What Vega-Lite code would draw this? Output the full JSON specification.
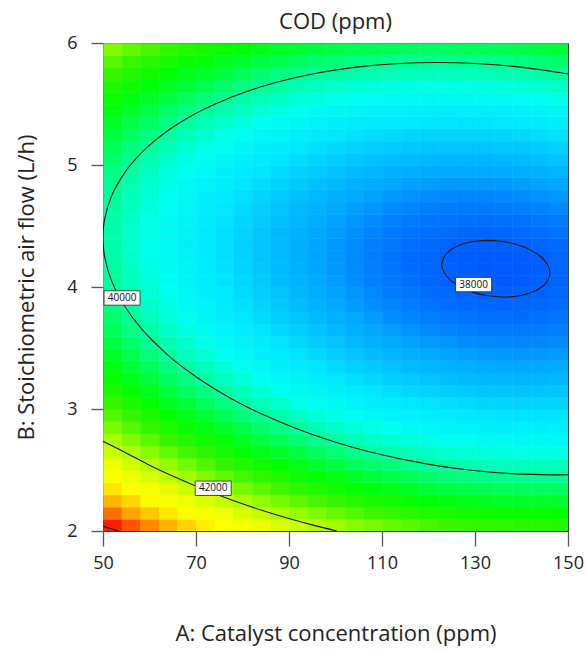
{
"$schema":"https://vega.github.io/schema/vega-lite/v6.json",
"width":465,"height":488,
"autosize":{"type":"none"},
"padding":{"left":103,"top":43,"right":19,"bottom":122},
"background":"white",
"title":{"text":"COD (ppm)","fontSize":22,"font":"Open Sans","fontWeight":"normal","color":"#222","offset":0},
"config":{"view":{"stroke":"#3a3a3a","strokeWidth":1},"font":"Open Sans",
 "title":{"fontSize":22,"fontWeight":"normal"},
 "axisX":{"titleFontSize":22,"titleFontWeight":"normal","titlePadding":51,"labelFontSize":18,"labelPadding":8,"tickSize":15,"tickColor":"#555","tickWidth":1.3,"domain":false,"grid":false,"labelColor":"#222","titleColor":"#222","labelFlush":false},
 "axisY":{"titleFontSize":22,"titleFontWeight":"normal","titlePadding":28,"labelFontSize":18,"labelPadding":14,"tickSize":12,"tickColor":"#555","tickWidth":1.3,"domain":false,"grid":false,"labelColor":"#222","titleColor":"#222","labelFlush":false}},
"datasets":{
"grid":[
{"a":50,"b":2,"v":43927},{"a":54,"b":2,"v":43702},{"a":58,"b":2,"v":43486},{"a":62,"b":2,"v":43281},{"a":66,"b":2,"v":43084},{"a":70,"b":2,"v":42896},{"a":74,"b":2,"v":42718},{"a":78,"b":2,"v":42549},{"a":82,"b":2,"v":42390},{"a":86,"b":2,"v":42240},{"a":90,"b":2,"v":42099},{"a":94,"b":2,"v":41967},{"a":98,"b":2,"v":41846},{"a":102,"b":2,"v":41733},{"a":106,"b":2,"v":41630},{"a":110,"b":2,"v":41535},{"a":114,"b":2,"v":41451},{"a":118,"b":2,"v":41376},{"a":122,"b":2,"v":41310},{"a":126,"b":2,"v":41253},{"a":130,"b":2,"v":41205},{"a":134,"b":2,"v":41167},{"a":138,"b":2,"v":41139},{"a":142,"b":2,"v":41120},{"a":146,"b":2,"v":41110},
{"a":50,"b":2.1,"v":43592},{"a":54,"b":2.1,"v":43369},{"a":58,"b":2.1,"v":43155},{"a":62,"b":2.1,"v":42951},{"a":66,"b":2.1,"v":42756},{"a":70,"b":2.1,"v":42570},{"a":74,"b":2.1,"v":42394},{"a":78,"b":2.1,"v":42227},{"a":82,"b":2.1,"v":42069},{"a":86,"b":2.1,"v":41921},{"a":90,"b":2.1,"v":41782},{"a":94,"b":2.1,"v":41652},{"a":98,"b":2.1,"v":41532},{"a":102,"b":2.1,"v":41420},{"a":106,"b":2.1,"v":41319},{"a":110,"b":2.1,"v":41226},{"a":114,"b":2.1,"v":41144},{"a":118,"b":2.1,"v":41070},{"a":122,"b":2.1,"v":41006},{"a":126,"b":2.1,"v":40951},{"a":130,"b":2.1,"v":40905},{"a":134,"b":2.1,"v":40869},{"a":138,"b":2.1,"v":40842},{"a":142,"b":2.1,"v":40825},{"a":146,"b":2.1,"v":40817},
{"a":50,"b":2.2,"v":43271},{"a":54,"b":2.2,"v":43050},{"a":58,"b":2.2,"v":42837},{"a":62,"b":2.2,"v":42635},{"a":66,"b":2.2,"v":42442},{"a":70,"b":2.2,"v":42258},{"a":74,"b":2.2,"v":42083},{"a":78,"b":2.2,"v":41918},{"a":82,"b":2.2,"v":41762},{"a":86,"b":2.2,"v":41615},{"a":90,"b":2.2,"v":41478},{"a":94,"b":2.2,"v":41350},{"a":98,"b":2.2,"v":41232},{"a":102,"b":2.2,"v":41122},{"a":106,"b":2.2,"v":41023},{"a":110,"b":2.2,"v":40932},{"a":114,"b":2.2,"v":40851},{"a":118,"b":2.2,"v":40779},{"a":122,"b":2.2,"v":40717},{"a":126,"b":2.2,"v":40663},{"a":130,"b":2.2,"v":40619},{"a":134,"b":2.2,"v":40585},{"a":138,"b":2.2,"v":40560},{"a":142,"b":2.2,"v":40544},{"a":146,"b":2.2,"v":40538},
{"a":50,"b":2.3,"v":42965},{"a":54,"b":2.3,"v":42745},{"a":58,"b":2.3,"v":42535},{"a":62,"b":2.3,"v":42334},{"a":66,"b":2.3,"v":42143},{"a":70,"b":2.3,"v":41960},{"a":74,"b":2.3,"v":41788},{"a":78,"b":2.3,"v":41624},{"a":82,"b":2.3,"v":41470},{"a":86,"b":2.3,"v":41325},{"a":90,"b":2.3,"v":41190},{"a":94,"b":2.3,"v":41063},{"a":98,"b":2.3,"v":40947},{"a":102,"b":2.3,"v":40839},{"a":106,"b":2.3,"v":40741},{"a":110,"b":2.3,"v":40652},{"a":114,"b":2.3,"v":40573},{"a":118,"b":2.3,"v":40503},{"a":122,"b":2.3,"v":40442},{"a":126,"b":2.3,"v":40391},{"a":130,"b":2.3,"v":40348},{"a":134,"b":2.3,"v":40316},{"a":138,"b":2.3,"v":40292},{"a":142,"b":2.3,"v":40279},{"a":146,"b":2.3,"v":40274},
{"a":50,"b":2.4,"v":42673},{"a":54,"b":2.4,"v":42455},{"a":58,"b":2.4,"v":42246},{"a":62,"b":2.4,"v":42048},{"a":66,"b":2.4,"v":41858},{"a":70,"b":2.4,"v":41677},{"a":74,"b":2.4,"v":41506},{"a":78,"b":2.4,"v":41345},{"a":82,"b":2.4,"v":41192},{"a":86,"b":2.4,"v":41049},{"a":90,"b":2.4,"v":40915},{"a":94,"b":2.4,"v":40790},{"a":98,"b":2.4,"v":40676},{"a":102,"b":2.4,"v":40570},{"a":106,"b":2.4,"v":40474},{"a":110,"b":2.4,"v":40386},{"a":114,"b":2.4,"v":40310},{"a":118,"b":2.4,"v":40241},{"a":122,"b":2.4,"v":40182},{"a":126,"b":2.4,"v":40132},{"a":130,"b":2.4,"v":40091},{"a":134,"b":2.4,"v":40061},{"a":138,"b":2.4,"v":40039},{"a":142,"b":2.4,"v":40027},{"a":146,"b":2.4,"v":40024},
{"a":50,"b":2.5,"v":42396},{"a":54,"b":2.5,"v":42180},{"a":58,"b":2.5,"v":41973},{"a":62,"b":2.5,"v":41776},{"a":66,"b":2.5,"v":41588},{"a":70,"b":2.5,"v":41409},{"a":74,"b":2.5,"v":41240},{"a":78,"b":2.5,"v":41080},{"a":82,"b":2.5,"v":40929},{"a":86,"b":2.5,"v":40788},{"a":90,"b":2.5,"v":40656},{"a":94,"b":2.5,"v":40533},{"a":98,"b":2.5,"v":40420},{"a":102,"b":2.5,"v":40316},{"a":106,"b":2.5,"v":40222},{"a":110,"b":2.5,"v":40136},{"a":114,"b":2.5,"v":40061},{"a":118,"b":2.5,"v":39993},{"a":122,"b":2.5,"v":39936},{"a":126,"b":2.5,"v":39888},{"a":130,"b":2.5,"v":39849},{"a":134,"b":2.5,"v":39820},{"a":138,"b":2.5,"v":39800},{"a":142,"b":2.5,"v":39790},{"a":146,"b":2.5,"v":39789},
{"a":50,"b":2.6,"v":42134},{"a":54,"b":2.6,"v":41920},{"a":58,"b":2.6,"v":41714},{"a":62,"b":2.6,"v":41519},{"a":66,"b":2.6,"v":41333},{"a":70,"b":2.6,"v":41156},{"a":74,"b":2.6,"v":40988},{"a":78,"b":2.6,"v":40830},{"a":82,"b":2.6,"v":40681},{"a":86,"b":2.6,"v":40541},{"a":90,"b":2.6,"v":40411},{"a":94,"b":2.6,"v":40290},{"a":98,"b":2.6,"v":40179},{"a":102,"b":2.6,"v":40076},{"a":106,"b":2.6,"v":39984},{"a":110,"b":2.6,"v":39900},{"a":114,"b":2.6,"v":39827},{"a":118,"b":2.6,"v":39761},{"a":122,"b":2.6,"v":39706},{"a":126,"b":2.6,"v":39660},{"a":130,"b":2.6,"v":39622},{"a":134,"b":2.6,"v":39595},{"a":138,"b":2.6,"v":39577},{"a":142,"b":2.6,"v":39569},{"a":146,"b":2.6,"v":39569},
{"a":50,"b":2.7,"v":41886},{"a":54,"b":2.7,"v":41673},{"a":58,"b":2.7,"v":41470},{"a":62,"b":2.7,"v":41276},{"a":66,"b":2.7,"v":41092},{"a":70,"b":2.7,"v":40916},{"a":74,"b":2.7,"v":40751},{"a":78,"b":2.7,"v":40594},{"a":82,"b":2.7,"v":40447},{"a":86,"b":2.7,"v":40309},{"a":90,"b":2.7,"v":40181},{"a":94,"b":2.7,"v":40061},{"a":98,"b":2.7,"v":39952},{"a":102,"b":2.7,"v":39851},{"a":106,"b":2.7,"v":39761},{"a":110,"b":2.7,"v":39678},{"a":114,"b":2.7,"v":39607},{"a":118,"b":2.7,"v":39543},{"a":122,"b":2.7,"v":39489},{"a":126,"b":2.7,"v":39445},{"a":130,"b":2.7,"v":39409},{"a":134,"b":2.7,"v":39384},{"a":138,"b":2.7,"v":39367},{"a":142,"b":2.7,"v":39361},{"a":146,"b":2.7,"v":39363},
{"a":50,"b":2.8,"v":41653},{"a":54,"b":2.8,"v":41442},{"a":58,"b":2.8,"v":41240},{"a":62,"b":2.8,"v":41049},{"a":66,"b":2.8,"v":40866},{"a":70,"b":2.8,"v":40692},{"a":74,"b":2.8,"v":40528},{"a":78,"b":2.8,"v":40374},{"a":82,"b":2.8,"v":40228},{"a":86,"b":2.8,"v":40092},{"a":90,"b":2.8,"v":39965},{"a":94,"b":2.8,"v":39847},{"a":98,"b":2.8,"v":39740},{"a":102,"b":2.8,"v":39641},{"a":106,"b":2.8,"v":39552},{"a":110,"b":2.8,"v":39471},{"a":114,"b":2.8,"v":39402},{"a":118,"b":2.8,"v":39340},{"a":122,"b":2.8,"v":39288},{"a":126,"b":2.8,"v":39245},{"a":130,"b":2.8,"v":39211},{"a":134,"b":2.8,"v":39188},{"a":138,"b":2.8,"v":39173},{"a":142,"b":2.8,"v":39168},{"a":146,"b":2.8,"v":39172},
{"a":50,"b":2.9,"v":41434},{"a":54,"b":2.9,"v":41225},{"a":58,"b":2.9,"v":41025},{"a":62,"b":2.9,"v":40835},{"a":66,"b":2.9,"v":40654},{"a":70,"b":2.9,"v":40482},{"a":74,"b":2.9,"v":40320},{"a":78,"b":2.9,"v":40167},{"a":82,"b":2.9,"v":40023},{"a":86,"b":2.9,"v":39889},{"a":90,"b":2.9,"v":39764},{"a":94,"b":2.9,"v":39648},{"a":98,"b":2.9,"v":39542},{"a":102,"b":2.9,"v":39445},{"a":106,"b":2.9,"v":39358},{"a":110,"b":2.9,"v":39279},{"a":114,"b":2.9,"v":39211},{"a":118,"b":2.9,"v":39151},{"a":122,"b":2.9,"v":39101},{"a":126,"b":2.9,"v":39060},{"a":130,"b":2.9,"v":39028},{"a":134,"b":2.9,"v":39006},{"a":138,"b":2.9,"v":38993},{"a":142,"b":2.9,"v":38990},{"a":146,"b":2.9,"v":38996},
{"a":50,"b":3,"v":41230},{"a":54,"b":3,"v":41023},{"a":58,"b":3,"v":40824},{"a":62,"b":3,"v":40636},{"a":66,"b":3,"v":40457},{"a":70,"b":3,"v":40287},{"a":74,"b":3,"v":40126},{"a":78,"b":3,"v":39975},{"a":82,"b":3,"v":39833},{"a":86,"b":3,"v":39701},{"a":90,"b":3,"v":39577},{"a":94,"b":3,"v":39463},{"a":98,"b":3,"v":39359},{"a":102,"b":3,"v":39263},{"a":106,"b":3,"v":39178},{"a":110,"b":3,"v":39101},{"a":114,"b":3,"v":39035},{"a":118,"b":3,"v":38976},{"a":122,"b":3,"v":38928},{"a":126,"b":3,"v":38889},{"a":130,"b":3,"v":38859},{"a":134,"b":3,"v":38838},{"a":138,"b":3,"v":38827},{"a":142,"b":3,"v":38826},{"a":146,"b":3,"v":38834},
{"a":50,"b":3.1,"v":41040},{"a":54,"b":3.1,"v":40834},{"a":58,"b":3.1,"v":40638},{"a":62,"b":3.1,"v":40451},{"a":66,"b":3.1,"v":40274},{"a":70,"b":3.1,"v":40105},{"a":74,"b":3.1,"v":39947},{"a":78,"b":3.1,"v":39797},{"a":82,"b":3.1,"v":39657},{"a":86,"b":3.1,"v":39526},{"a":90,"b":3.1,"v":39405},{"a":94,"b":3.1,"v":39292},{"a":98,"b":3.1,"v":39190},{"a":102,"b":3.1,"v":39096},{"a":106,"b":3.1,"v":39013},{"a":110,"b":3.1,"v":38937},{"a":114,"b":3.1,"v":38873},{"a":118,"b":3.1,"v":38816},{"a":122,"b":3.1,"v":38770},{"a":126,"b":3.1,"v":38732},{"a":130,"b":3.1,"v":38704},{"a":134,"b":3.1,"v":38685},{"a":138,"b":3.1,"v":38676},{"a":142,"b":3.1,"v":38676},{"a":146,"b":3.1,"v":38686},
{"a":50,"b":3.2,"v":40866},{"a":54,"b":3.2,"v":40662},{"a":58,"b":3.2,"v":40467},{"a":62,"b":3.2,"v":40283},{"a":66,"b":3.2,"v":40107},{"a":70,"b":3.2,"v":39940},{"a":74,"b":3.2,"v":39783},{"a":78,"b":3.2,"v":39636},{"a":82,"b":3.2,"v":39497},{"a":86,"b":3.2,"v":39368},{"a":90,"b":3.2,"v":39248},{"a":94,"b":3.2,"v":39138},{"a":98,"b":3.2,"v":39037},{"a":102,"b":3.2,"v":38945},{"a":106,"b":3.2,"v":38863},{"a":110,"b":3.2,"v":38789},{"a":114,"b":3.2,"v":38727},{"a":118,"b":3.2,"v":38672},{"a":122,"b":3.2,"v":38627},{"a":126,"b":3.2,"v":38591},{"a":130,"b":3.2,"v":38565},{"a":134,"b":3.2,"v":38548},{"a":138,"b":3.2,"v":38540},{"a":142,"b":3.2,"v":38542},{"a":146,"b":3.2,"v":38554},
{"a":50,"b":3.3,"v":40705},{"a":54,"b":3.3,"v":40503},{"a":58,"b":3.3,"v":40310},{"a":62,"b":3.3,"v":40127},{"a":66,"b":3.3,"v":39953},{"a":70,"b":3.3,"v":39788},{"a":74,"b":3.3,"v":39633},{"a":78,"b":3.3,"v":39487},{"a":82,"b":3.3,"v":39350},{"a":86,"b":3.3,"v":39223},{"a":90,"b":3.3,"v":39105},{"a":94,"b":3.3,"v":38996},{"a":98,"b":3.3,"v":38897},{"a":102,"b":3.3,"v":38807},{"a":106,"b":3.3,"v":38727},{"a":110,"b":3.3,"v":38655},{"a":114,"b":3.3,"v":38594},{"a":118,"b":3.3,"v":38541},{"a":122,"b":3.3,"v":38498},{"a":126,"b":3.3,"v":38464},{"a":130,"b":3.3,"v":38439},{"a":134,"b":3.3,"v":38424},{"a":138,"b":3.3,"v":38418},{"a":142,"b":3.3,"v":38422},{"a":146,"b":3.3,"v":38435},
{"a":50,"b":3.4,"v":40560},{"a":54,"b":3.4,"v":40360},{"a":58,"b":3.4,"v":40168},{"a":62,"b":3.4,"v":39987},{"a":66,"b":3.4,"v":39815},{"a":70,"b":3.4,"v":39652},{"a":74,"b":3.4,"v":39498},{"a":78,"b":3.4,"v":39354},{"a":82,"b":3.4,"v":39219},{"a":86,"b":3.4,"v":39094},{"a":90,"b":3.4,"v":38977},{"a":94,"b":3.4,"v":38870},{"a":98,"b":3.4,"v":38773},{"a":102,"b":3.4,"v":38685},{"a":106,"b":3.4,"v":38606},{"a":110,"b":3.4,"v":38536},{"a":114,"b":3.4,"v":38477},{"a":118,"b":3.4,"v":38426},{"a":122,"b":3.4,"v":38384},{"a":126,"b":3.4,"v":38352},{"a":130,"b":3.4,"v":38329},{"a":134,"b":3.4,"v":38316},{"a":138,"b":3.4,"v":38311},{"a":142,"b":3.4,"v":38317},{"a":146,"b":3.4,"v":38332},
{"a":50,"b":3.5,"v":40429},{"a":54,"b":3.5,"v":40230},{"a":58,"b":3.5,"v":40041},{"a":62,"b":3.5,"v":39861},{"a":66,"b":3.5,"v":39691},{"a":70,"b":3.5,"v":39529},{"a":74,"b":3.5,"v":39378},{"a":78,"b":3.5,"v":39235},{"a":82,"b":3.5,"v":39102},{"a":86,"b":3.5,"v":38978},{"a":90,"b":3.5,"v":38864},{"a":94,"b":3.5,"v":38758},{"a":98,"b":3.5,"v":38663},{"a":102,"b":3.5,"v":38576},{"a":106,"b":3.5,"v":38500},{"a":110,"b":3.5,"v":38431},{"a":114,"b":3.5,"v":38374},{"a":118,"b":3.5,"v":38324},{"a":122,"b":3.5,"v":38285},{"a":126,"b":3.5,"v":38254},{"a":130,"b":3.5,"v":38233},{"a":134,"b":3.5,"v":38221},{"a":138,"b":3.5,"v":38219},{"a":142,"b":3.5,"v":38226},{"a":146,"b":3.5,"v":38243},
{"a":50,"b":3.6,"v":40312},{"a":54,"b":3.6,"v":40115},{"a":58,"b":3.6,"v":39927},{"a":62,"b":3.6,"v":39750},{"a":66,"b":3.6,"v":39581},{"a":70,"b":3.6,"v":39421},{"a":74,"b":3.6,"v":39271},{"a":78,"b":3.6,"v":39131},{"a":82,"b":3.6,"v":38999},{"a":86,"b":3.6,"v":38877},{"a":90,"b":3.6,"v":38764},{"a":94,"b":3.6,"v":38661},{"a":98,"b":3.6,"v":38567},{"a":102,"b":3.6,"v":38482},{"a":106,"b":3.6,"v":38407},{"a":110,"b":3.6,"v":38341},{"a":114,"b":3.6,"v":38285},{"a":118,"b":3.6,"v":38237},{"a":122,"b":3.6,"v":38199},{"a":126,"b":3.6,"v":38171},{"a":130,"b":3.6,"v":38151},{"a":134,"b":3.6,"v":38141},{"a":138,"b":3.6,"v":38140},{"a":142,"b":3.6,"v":38150},{"a":146,"b":3.6,"v":38168},
{"a":50,"b":3.7,"v":40210},{"a":54,"b":3.7,"v":40015},{"a":58,"b":3.7,"v":39829},{"a":62,"b":3.7,"v":39653},{"a":66,"b":3.7,"v":39486},{"a":70,"b":3.7,"v":39328},{"a":74,"b":3.7,"v":39180},{"a":78,"b":3.7,"v":39041},{"a":82,"b":3.7,"v":38911},{"a":86,"b":3.7,"v":38791},{"a":90,"b":3.7,"v":38680},{"a":94,"b":3.7,"v":38578},{"a":98,"b":3.7,"v":38486},{"a":102,"b":3.7,"v":38403},{"a":106,"b":3.7,"v":38330},{"a":110,"b":3.7,"v":38265},{"a":114,"b":3.7,"v":38211},{"a":118,"b":3.7,"v":38165},{"a":122,"b":3.7,"v":38129},{"a":126,"b":3.7,"v":38102},{"a":130,"b":3.7,"v":38084},{"a":134,"b":3.7,"v":38076},{"a":138,"b":3.7,"v":38077},{"a":142,"b":3.7,"v":38088},{"a":146,"b":3.7,"v":38108},
{"a":50,"b":3.8,"v":40123},{"a":54,"b":3.8,"v":39930},{"a":58,"b":3.8,"v":39745},{"a":62,"b":3.8,"v":39571},{"a":66,"b":3.8,"v":39406},{"a":70,"b":3.8,"v":39250},{"a":74,"b":3.8,"v":39103},{"a":78,"b":3.8,"v":38966},{"a":82,"b":3.8,"v":38838},{"a":86,"b":3.8,"v":38720},{"a":90,"b":3.8,"v":38610},{"a":94,"b":3.8,"v":38510},{"a":98,"b":3.8,"v":38420},{"a":102,"b":3.8,"v":38339},{"a":106,"b":3.8,"v":38267},{"a":110,"b":3.8,"v":38204},{"a":114,"b":3.8,"v":38152},{"a":118,"b":3.8,"v":38108},{"a":122,"b":3.8,"v":38073},{"a":126,"b":3.8,"v":38048},{"a":130,"b":3.8,"v":38032},{"a":134,"b":3.8,"v":38026},{"a":138,"b":3.8,"v":38028},{"a":142,"b":3.8,"v":38041},{"a":146,"b":3.8,"v":38063},
{"a":50,"b":3.9,"v":40051},{"a":54,"b":3.9,"v":39859},{"a":58,"b":3.9,"v":39677},{"a":62,"b":3.9,"v":39504},{"a":66,"b":3.9,"v":39341},{"a":70,"b":3.9,"v":39186},{"a":74,"b":3.9,"v":39042},{"a":78,"b":3.9,"v":38906},{"a":82,"b":3.9,"v":38780},{"a":86,"b":3.9,"v":38663},{"a":90,"b":3.9,"v":38556},{"a":94,"b":3.9,"v":38457},{"a":98,"b":3.9,"v":38369},{"a":102,"b":3.9,"v":38289},{"a":106,"b":3.9,"v":38220},{"a":110,"b":3.9,"v":38158},{"a":114,"b":3.9,"v":38108},{"a":118,"b":3.9,"v":38065},{"a":122,"b":3.9,"v":38033},{"a":126,"b":3.9,"v":38009},{"a":130,"b":3.9,"v":37995},{"a":134,"b":3.9,"v":37990},{"a":138,"b":3.9,"v":37995},{"a":142,"b":3.9,"v":38009},{"a":146,"b":3.9,"v":38033},
{"a":50,"b":4,"v":39992},{"a":54,"b":4,"v":39802},{"a":58,"b":4,"v":39621},{"a":62,"b":4,"v":39451},{"a":66,"b":4,"v":39289},{"a":70,"b":4,"v":39136},{"a":74,"b":4,"v":38993},{"a":78,"b":4,"v":38860},{"a":82,"b":4,"v":38735},{"a":86,"b":4,"v":38620},{"a":90,"b":4,"v":38514},{"a":94,"b":4,"v":38418},{"a":98,"b":4,"v":38331},{"a":102,"b":4,"v":38253},{"a":106,"b":4,"v":38185},{"a":110,"b":4,"v":38126},{"a":114,"b":4,"v":38077},{"a":118,"b":4,"v":38036},{"a":122,"b":4,"v":38005},{"a":126,"b":4,"v":37984},{"a":130,"b":4,"v":37971},{"a":134,"b":4,"v":37968},{"a":138,"b":4,"v":37974},{"a":142,"b":4,"v":37991},{"a":146,"b":4,"v":38016},
{"a":50,"b":4.1,"v":39949},{"a":54,"b":4.1,"v":39761},{"a":58,"b":4.1,"v":39582},{"a":62,"b":4.1,"v":39413},{"a":66,"b":4.1,"v":39253},{"a":70,"b":4.1,"v":39102},{"a":74,"b":4.1,"v":38961},{"a":78,"b":4.1,"v":38829},{"a":82,"b":4.1,"v":38706},{"a":86,"b":4.1,"v":38593},{"a":90,"b":4.1,"v":38489},{"a":94,"b":4.1,"v":38394},{"a":98,"b":4.1,"v":38309},{"a":102,"b":4.1,"v":38233},{"a":106,"b":4.1,"v":38167},{"a":110,"b":4.1,"v":38109},{"a":114,"b":4.1,"v":38062},{"a":118,"b":4.1,"v":38023},{"a":122,"b":4.1,"v":37994},{"a":126,"b":4.1,"v":37974},{"a":130,"b":4.1,"v":37963},{"a":134,"b":4.1,"v":37962},{"a":138,"b":4.1,"v":37970},{"a":142,"b":4.1,"v":37988},{"a":146,"b":4.1,"v":38015},
{"a":50,"b":4.2,"v":39920},{"a":54,"b":4.2,"v":39734},{"a":58,"b":4.2,"v":39557},{"a":62,"b":4.2,"v":39389},{"a":66,"b":4.2,"v":39231},{"a":70,"b":4.2,"v":39082},{"a":74,"b":4.2,"v":38943},{"a":78,"b":4.2,"v":38812},{"a":82,"b":4.2,"v":38691},{"a":86,"b":4.2,"v":38580},{"a":90,"b":4.2,"v":38478},{"a":94,"b":4.2,"v":38384},{"a":98,"b":4.2,"v":38301},{"a":102,"b":4.2,"v":38227},{"a":106,"b":4.2,"v":38163},{"a":110,"b":4.2,"v":38106},{"a":114,"b":4.2,"v":38061},{"a":118,"b":4.2,"v":38024},{"a":122,"b":4.2,"v":37997},{"a":126,"b":4.2,"v":37978},{"a":130,"b":4.2,"v":37969},{"a":134,"b":4.2,"v":37970},{"a":138,"b":4.2,"v":37980},{"a":142,"b":4.2,"v":37999},{"a":146,"b":4.2,"v":38028},
{"a":50,"b":4.3,"v":39906},{"a":54,"b":4.3,"v":39722},{"a":58,"b":4.3,"v":39546},{"a":62,"b":4.3,"v":39381},{"a":66,"b":4.3,"v":39224},{"a":70,"b":4.3,"v":39077},{"a":74,"b":4.3,"v":38939},{"a":78,"b":4.3,"v":38811},{"a":82,"b":4.3,"v":38691},{"a":86,"b":4.3,"v":38582},{"a":90,"b":4.3,"v":38481},{"a":94,"b":4.3,"v":38390},{"a":98,"b":4.3,"v":38308},{"a":102,"b":4.3,"v":38236},{"a":106,"b":4.3,"v":38173},{"a":110,"b":4.3,"v":38119},{"a":114,"b":4.3,"v":38075},{"a":118,"b":4.3,"v":38040},{"a":122,"b":4.3,"v":38014},{"a":126,"b":4.3,"v":37998},{"a":130,"b":4.3,"v":37990},{"a":134,"b":4.3,"v":37993},{"a":138,"b":4.3,"v":38004},{"a":142,"b":4.3,"v":38026},{"a":146,"b":4.3,"v":38056},
{"a":50,"b":4.4,"v":39906},{"a":54,"b":4.4,"v":39723},{"a":58,"b":4.4,"v":39550},{"a":62,"b":4.4,"v":39386},{"a":66,"b":4.4,"v":39231},{"a":70,"b":4.4,"v":39085},{"a":74,"b":4.4,"v":38950},{"a":78,"b":4.4,"v":38823},{"a":82,"b":4.4,"v":38705},{"a":86,"b":4.4,"v":38597},{"a":90,"b":4.4,"v":38499},{"a":94,"b":4.4,"v":38409},{"a":98,"b":4.4,"v":38329},{"a":102,"b":4.4,"v":38258},{"a":106,"b":4.4,"v":38198},{"a":110,"b":4.4,"v":38145},{"a":114,"b":4.4,"v":38103},{"a":118,"b":4.4,"v":38069},{"a":122,"b":4.4,"v":38046},{"a":126,"b":4.4,"v":38031},{"a":130,"b":4.4,"v":38025},{"a":134,"b":4.4,"v":38029},{"a":138,"b":4.4,"v":38043},{"a":142,"b":4.4,"v":38066},{"a":146,"b":4.4,"v":38098},
{"a":50,"b":4.5,"v":39921},{"a":54,"b":4.5,"v":39740},{"a":58,"b":4.5,"v":39568},{"a":62,"b":4.5,"v":39406},{"a":66,"b":4.5,"v":39253},{"a":70,"b":4.5,"v":39109},{"a":74,"b":4.5,"v":38975},{"a":78,"b":4.5,"v":38850},{"a":82,"b":4.5,"v":38734},{"a":86,"b":4.5,"v":38628},{"a":90,"b":4.5,"v":38531},{"a":94,"b":4.5,"v":38443},{"a":98,"b":4.5,"v":38365},{"a":102,"b":4.5,"v":38296},{"a":106,"b":4.5,"v":38237},{"a":110,"b":4.5,"v":38186},{"a":114,"b":4.5,"v":38146},{"a":118,"b":4.5,"v":38114},{"a":122,"b":4.5,"v":38092},{"a":126,"b":4.5,"v":38079},{"a":130,"b":4.5,"v":38075},{"a":134,"b":4.5,"v":38081},{"a":138,"b":4.5,"v":38096},{"a":142,"b":4.5,"v":38121},{"a":146,"b":4.5,"v":38155},
{"a":50,"b":4.6,"v":39951},{"a":54,"b":4.6,"v":39772},{"a":58,"b":4.6,"v":39602},{"a":62,"b":4.6,"v":39441},{"a":66,"b":4.6,"v":39290},{"a":70,"b":4.6,"v":39148},{"a":74,"b":4.6,"v":39016},{"a":78,"b":4.6,"v":38892},{"a":82,"b":4.6,"v":38778},{"a":86,"b":4.6,"v":38674},{"a":90,"b":4.6,"v":38579},{"a":94,"b":4.6,"v":38492},{"a":98,"b":4.6,"v":38416},{"a":102,"b":4.6,"v":38349},{"a":106,"b":4.6,"v":38292},{"a":110,"b":4.6,"v":38242},{"a":114,"b":4.6,"v":38204},{"a":118,"b":4.6,"v":38174},{"a":122,"b":4.6,"v":38154},{"a":126,"b":4.6,"v":38142},{"a":130,"b":4.6,"v":38140},{"a":134,"b":4.6,"v":38148},{"a":138,"b":4.6,"v":38165},{"a":142,"b":4.6,"v":38191},{"a":146,"b":4.6,"v":38227},
{"a":50,"b":4.7,"v":39995},{"a":54,"b":4.7,"v":39818},{"a":58,"b":4.7,"v":39649},{"a":62,"b":4.7,"v":39491},{"a":66,"b":4.7,"v":39341},{"a":70,"b":4.7,"v":39201},{"a":74,"b":4.7,"v":39070},{"a":78,"b":4.7,"v":38949},{"a":82,"b":4.7,"v":38836},{"a":86,"b":4.7,"v":38734},{"a":90,"b":4.7,"v":38640},{"a":94,"b":4.7,"v":38556},{"a":98,"b":4.7,"v":38481},{"a":102,"b":4.7,"v":38416},{"a":106,"b":4.7,"v":38360},{"a":110,"b":4.7,"v":38313},{"a":114,"b":4.7,"v":38276},{"a":118,"b":4.7,"v":38248},{"a":122,"b":4.7,"v":38229},{"a":126,"b":4.7,"v":38220},{"a":130,"b":4.7,"v":38219},{"a":134,"b":4.7,"v":38229},{"a":138,"b":4.7,"v":38247},{"a":142,"b":4.7,"v":38276},{"a":146,"b":4.7,"v":38313},
{"a":50,"b":4.8,"v":40054},{"a":54,"b":4.8,"v":39878},{"a":58,"b":4.8,"v":39712},{"a":62,"b":4.8,"v":39555},{"a":66,"b":4.8,"v":39407},{"a":70,"b":4.8,"v":39268},{"a":74,"b":4.8,"v":39140},{"a":78,"b":4.8,"v":39020},{"a":82,"b":4.8,"v":38909},{"a":86,"b":4.8,"v":38808},{"a":90,"b":4.8,"v":38717},{"a":94,"b":4.8,"v":38634},{"a":98,"b":4.8,"v":38561},{"a":102,"b":4.8,"v":38497},{"a":106,"b":4.8,"v":38444},{"a":110,"b":4.8,"v":38398},{"a":114,"b":4.8,"v":38363},{"a":118,"b":4.8,"v":38336},{"a":122,"b":4.8,"v":38320},{"a":126,"b":4.8,"v":38312},{"a":130,"b":4.8,"v":38313},{"a":134,"b":4.8,"v":38324},{"a":138,"b":4.8,"v":38345},{"a":142,"b":4.8,"v":38375},{"a":146,"b":4.8,"v":38414},
{"a":50,"b":4.9,"v":40127},{"a":54,"b":4.9,"v":39953},{"a":58,"b":4.9,"v":39788},{"a":62,"b":4.9,"v":39633},{"a":66,"b":4.9,"v":39487},{"a":70,"b":4.9,"v":39350},{"a":74,"b":4.9,"v":39223},{"a":78,"b":4.9,"v":39105},{"a":82,"b":4.9,"v":38996},{"a":86,"b":4.9,"v":38897},{"a":90,"b":4.9,"v":38807},{"a":94,"b":4.9,"v":38726},{"a":98,"b":4.9,"v":38655},{"a":102,"b":4.9,"v":38593},{"a":106,"b":4.9,"v":38541},{"a":110,"b":4.9,"v":38497},{"a":114,"b":4.9,"v":38464},{"a":118,"b":4.9,"v":38439},{"a":122,"b":4.9,"v":38424},{"a":126,"b":4.9,"v":38418},{"a":130,"b":4.9,"v":38421},{"a":134,"b":4.9,"v":38434},{"a":138,"b":4.9,"v":38456},{"a":142,"b":4.9,"v":38488},{"a":146,"b":4.9,"v":38529},
{"a":50,"b":5,"v":40215},{"a":54,"b":5,"v":40043},{"a":58,"b":5,"v":39880},{"a":62,"b":5,"v":39726},{"a":66,"b":5,"v":39582},{"a":70,"b":5,"v":39447},{"a":74,"b":5,"v":39322},{"a":78,"b":5,"v":39205},{"a":82,"b":5,"v":39098},{"a":86,"b":5,"v":39001},{"a":90,"b":5,"v":38913},{"a":94,"b":5,"v":38833},{"a":98,"b":5,"v":38764},{"a":102,"b":5,"v":38704},{"a":106,"b":5,"v":38654},{"a":110,"b":5,"v":38612},{"a":114,"b":5,"v":38580},{"a":118,"b":5,"v":38557},{"a":122,"b":5,"v":38544},{"a":126,"b":5,"v":38540},{"a":130,"b":5,"v":38544},{"a":134,"b":5,"v":38559},{"a":138,"b":5,"v":38583},{"a":142,"b":5,"v":38617},{"a":146,"b":5,"v":38659},
{"a":50,"b":5.1,"v":40318},{"a":54,"b":5.1,"v":40148},{"a":58,"b":5.1,"v":39986},{"a":62,"b":5.1,"v":39835},{"a":66,"b":5.1,"v":39692},{"a":70,"b":5.1,"v":39559},{"a":74,"b":5.1,"v":39435},{"a":78,"b":5.1,"v":39321},{"a":82,"b":5.1,"v":39215},{"a":86,"b":5.1,"v":39120},{"a":90,"b":5.1,"v":39033},{"a":94,"b":5.1,"v":38956},{"a":98,"b":5.1,"v":38888},{"a":102,"b":5.1,"v":38830},{"a":106,"b":5.1,"v":38781},{"a":110,"b":5.1,"v":38741},{"a":114,"b":5.1,"v":38711},{"a":118,"b":5.1,"v":38690},{"a":122,"b":5.1,"v":38678},{"a":126,"b":5.1,"v":38676},{"a":130,"b":5.1,"v":38682},{"a":134,"b":5.1,"v":38699},{"a":138,"b":5.1,"v":38724},{"a":142,"b":5.1,"v":38760},{"a":146,"b":5.1,"v":38804},
{"a":50,"b":5.2,"v":40435},{"a":54,"b":5.2,"v":40266},{"a":58,"b":5.2,"v":40107},{"a":62,"b":5.2,"v":39957},{"a":66,"b":5.2,"v":39816},{"a":70,"b":5.2,"v":39684},{"a":74,"b":5.2,"v":39563},{"a":78,"b":5.2,"v":39450},{"a":82,"b":5.2,"v":39346},{"a":86,"b":5.2,"v":39252},{"a":90,"b":5.2,"v":39168},{"a":94,"b":5.2,"v":39092},{"a":98,"b":5.2,"v":39026},{"a":102,"b":5.2,"v":38970},{"a":106,"b":5.2,"v":38923},{"a":110,"b":5.2,"v":38884},{"a":114,"b":5.2,"v":38856},{"a":118,"b":5.2,"v":38837},{"a":122,"b":5.2,"v":38827},{"a":126,"b":5.2,"v":38826},{"a":130,"b":5.2,"v":38834},{"a":134,"b":5.2,"v":38853},{"a":138,"b":5.2,"v":38880},{"a":142,"b":5.2,"v":38917},{"a":146,"b":5.2,"v":38963},
{"a":50,"b":5.3,"v":40567},{"a":54,"b":5.3,"v":40400},{"a":58,"b":5.3,"v":40242},{"a":62,"b":5.3,"v":40094},{"a":66,"b":5.3,"v":39955},{"a":70,"b":5.3,"v":39825},{"a":74,"b":5.3,"v":39705},{"a":78,"b":5.3,"v":39594},{"a":82,"b":5.3,"v":39492},{"a":86,"b":5.3,"v":39400},{"a":90,"b":5.3,"v":39317},{"a":94,"b":5.3,"v":39243},{"a":98,"b":5.3,"v":39179},{"a":102,"b":5.3,"v":39124},{"a":106,"b":5.3,"v":39079},{"a":110,"b":5.3,"v":39042},{"a":114,"b":5.3,"v":39016},{"a":118,"b":5.3,"v":38998},{"a":122,"b":5.3,"v":38990},{"a":126,"b":5.3,"v":38991},{"a":130,"b":5.3,"v":39001},{"a":134,"b":5.3,"v":39021},{"a":138,"b":5.3,"v":39050},{"a":142,"b":5.3,"v":39089},{"a":146,"b":5.3,"v":39137},
{"a":50,"b":5.4,"v":40713},{"a":54,"b":5.4,"v":40548},{"a":58,"b":5.4,"v":40392},{"a":62,"b":5.4,"v":40245},{"a":66,"b":5.4,"v":40108},{"a":70,"b":5.4,"v":39980},{"a":74,"b":5.4,"v":39862},{"a":78,"b":5.4,"v":39752},{"a":82,"b":5.4,"v":39652},{"a":86,"b":5.4,"v":39562},{"a":90,"b":5.4,"v":39481},{"a":94,"b":5.4,"v":39409},{"a":98,"b":5.4,"v":39346},{"a":102,"b":5.4,"v":39293},{"a":106,"b":5.4,"v":39250},{"a":110,"b":5.4,"v":39215},{"a":114,"b":5.4,"v":39190},{"a":118,"b":5.4,"v":39174},{"a":122,"b":5.4,"v":39168},{"a":126,"b":5.4,"v":39171},{"a":130,"b":5.4,"v":39183},{"a":134,"b":5.4,"v":39204},{"a":138,"b":5.4,"v":39235},{"a":142,"b":5.4,"v":39276},{"a":146,"b":5.4,"v":39326},
{"a":50,"b":5.5,"v":40874},{"a":54,"b":5.5,"v":40711},{"a":58,"b":5.5,"v":40556},{"a":62,"b":5.5,"v":40412},{"a":66,"b":5.5,"v":40276},{"a":70,"b":5.5,"v":40150},{"a":74,"b":5.5,"v":40033},{"a":78,"b":5.5,"v":39926},{"a":82,"b":5.5,"v":39827},{"a":86,"b":5.5,"v":39739},{"a":90,"b":5.5,"v":39659},{"a":94,"b":5.5,"v":39589},{"a":98,"b":5.5,"v":39528},{"a":102,"b":5.5,"v":39477},{"a":106,"b":5.5,"v":39435},{"a":110,"b":5.5,"v":39402},{"a":114,"b":5.5,"v":39379},{"a":118,"b":5.5,"v":39365},{"a":122,"b":5.5,"v":39361},{"a":126,"b":5.5,"v":39365},{"a":130,"b":5.5,"v":39379},{"a":134,"b":5.5,"v":39402},{"a":138,"b":5.5,"v":39435},{"a":142,"b":5.5,"v":39477},{"a":146,"b":5.5,"v":39529},
{"a":50,"b":5.6,"v":41050},{"a":54,"b":5.6,"v":40888},{"a":58,"b":5.6,"v":40736},{"a":62,"b":5.6,"v":40593},{"a":66,"b":5.6,"v":40459},{"a":70,"b":5.6,"v":40334},{"a":74,"b":5.6,"v":40220},{"a":78,"b":5.6,"v":40114},{"a":82,"b":5.6,"v":40017},{"a":86,"b":5.6,"v":39931},{"a":90,"b":5.6,"v":39853},{"a":94,"b":5.6,"v":39784},{"a":98,"b":5.6,"v":39725},{"a":102,"b":5.6,"v":39676},{"a":106,"b":5.6,"v":39636},{"a":110,"b":5.6,"v":39604},{"a":114,"b":5.6,"v":39583},{"a":118,"b":5.6,"v":39571},{"a":122,"b":5.6,"v":39568},{"a":126,"b":5.6,"v":39574},{"a":130,"b":5.6,"v":39590},{"a":134,"b":5.6,"v":39615},{"a":138,"b":5.6,"v":39649},{"a":142,"b":5.6,"v":39693},{"a":146,"b":5.6,"v":39747},
{"a":50,"b":5.7,"v":41240},{"a":54,"b":5.7,"v":41080},{"a":58,"b":5.7,"v":40929},{"a":62,"b":5.7,"v":40788},{"a":66,"b":5.7,"v":40656},{"a":70,"b":5.7,"v":40533},{"a":74,"b":5.7,"v":40420},{"a":78,"b":5.7,"v":40316},{"a":82,"b":5.7,"v":40221},{"a":86,"b":5.7,"v":40136},{"a":90,"b":5.7,"v":40060},{"a":94,"b":5.7,"v":39993},{"a":98,"b":5.7,"v":39936},{"a":102,"b":5.7,"v":39888},{"a":106,"b":5.7,"v":39850},{"a":110,"b":5.7,"v":39820},{"a":114,"b":5.7,"v":39801},{"a":118,"b":5.7,"v":39791},{"a":122,"b":5.7,"v":39790},{"a":126,"b":5.7,"v":39798},{"a":130,"b":5.7,"v":39815},{"a":134,"b":5.7,"v":39842},{"a":138,"b":5.7,"v":39878},{"a":142,"b":5.7,"v":39924},{"a":146,"b":5.7,"v":39979},
{"a":50,"b":5.8,"v":41444},{"a":54,"b":5.8,"v":41286},{"a":58,"b":5.8,"v":41137},{"a":62,"b":5.8,"v":40997},{"a":66,"b":5.8,"v":40867},{"a":70,"b":5.8,"v":40746},{"a":74,"b":5.8,"v":40635},{"a":78,"b":5.8,"v":40532},{"a":82,"b":5.8,"v":40439},{"a":86,"b":5.8,"v":40356},{"a":90,"b":5.8,"v":40282},{"a":94,"b":5.8,"v":40217},{"a":98,"b":5.8,"v":40161},{"a":102,"b":5.8,"v":40115},{"a":106,"b":5.8,"v":40079},{"a":110,"b":5.8,"v":40051},{"a":114,"b":5.8,"v":40033},{"a":118,"b":5.8,"v":40024},{"a":122,"b":5.8,"v":40025},{"a":126,"b":5.8,"v":40035},{"a":130,"b":5.8,"v":40054},{"a":134,"b":5.8,"v":40082},{"a":138,"b":5.8,"v":40120},{"a":142,"b":5.8,"v":40168},{"a":146,"b":5.8,"v":40225},
{"a":50,"b":5.9,"v":41664},{"a":54,"b":5.9,"v":41508},{"a":58,"b":5.9,"v":41360},{"a":62,"b":5.9,"v":41223},{"a":66,"b":5.9,"v":41094},{"a":70,"b":5.9,"v":40975},{"a":74,"b":5.9,"v":40865},{"a":78,"b":5.9,"v":40765},{"a":82,"b":5.9,"v":40673},{"a":86,"b":5.9,"v":40592},{"a":90,"b":5.9,"v":40519},{"a":94,"b":5.9,"v":40456},{"a":98,"b":5.9,"v":40402},{"a":102,"b":5.9,"v":40358},{"a":106,"b":5.9,"v":40324},{"a":110,"b":5.9,"v":40297},{"a":114,"b":5.9,"v":40282},{"a":118,"b":5.9,"v":40274},{"a":122,"b":5.9,"v":40277},{"a":126,"b":5.9,"v":40288},{"a":130,"b":5.9,"v":40309},{"a":134,"b":5.9,"v":40339},{"a":138,"b":5.9,"v":40379},{"a":142,"b":5.9,"v":40428},{"a":146,"b":5.9,"v":40487}
],
"cont":[
{"l":"c40","o":1,"a":150,"b":5.746},{"l":"c40","o":2,"a":149.43,"b":5.75},{"l":"c40","o":3,"a":140.24,"b":5.8},{"l":"c40","o":4,"a":131.08,"b":5.83},{"l":"c40","o":5,"a":121.8,"b":5.84},{"l":"c40","o":6,"a":112.72,"b":5.83},{"l":"c40","o":7,"a":104.01,"b":5.8},{"l":"c40","o":8,"a":95.57,"b":5.75},{"l":"c40","o":9,"a":84.74,"b":5.65},{"l":"c40","o":10,"a":77.18,"b":5.55},{"l":"c40","o":11,"a":71.36,"b":5.45},{"l":"c40","o":12,"a":66.66,"b":5.35},{"l":"c40","o":13,"a":62.81,"b":5.25},{"l":"c40","o":14,"a":59.64,"b":5.15},{"l":"c40","o":15,"a":57.03,"b":5.05},{"l":"c40","o":16,"a":54.9,"b":4.95},{"l":"c40","o":17,"a":51.88,"b":4.75},{"l":"c40","o":18,"a":50.32,"b":4.55},{"l":"c40","o":19,"a":49.99,"b":4.4},{"l":"c40","o":20,"a":50.34,"b":4.25},{"l":"c40","o":21,"a":51.84,"b":4.05},{"l":"c40","o":22,"a":54.52,"b":3.85},{"l":"c40","o":23,"a":58.44,"b":3.65},{"l":"c40","o":24,"a":63.71,"b":3.45},{"l":"c40","o":25,"a":66.9,"b":3.35},{"l":"c40","o":26,"a":70.53,"b":3.25},{"l":"c40","o":27,"a":74.64,"b":3.15},{"l":"c40","o":28,"a":79.31,"b":3.05},{"l":"c40","o":29,"a":84.66,"b":2.95},{"l":"c40","o":30,"a":90.86,"b":2.85},{"l":"c40","o":31,"a":98.18,"b":2.75},{"l":"c40","o":32,"a":107.24,"b":2.65},{"l":"c40","o":33,"a":119.57,"b":2.55},{"l":"c40","o":34,"a":128.76,"b":2.5},{"l":"c40","o":35,"a":137.92,"b":2.47},{"l":"c40","o":36,"a":147.2,"b":2.46},{"l":"c40","o":37,"a":150,"b":2.461},
{"l":"c38","o":1,"a":132.76,"b":4.382},{"l":"c38","o":2,"a":129.21,"b":4.37},{"l":"c38","o":3,"a":127.19,"b":4.35},{"l":"c38","o":4,"a":124.63,"b":4.3},{"l":"c38","o":5,"a":123.4,"b":4.25},{"l":"c38","o":6,"a":122.93,"b":4.2},{"l":"c38","o":7,"a":123.03,"b":4.15},{"l":"c38","o":8,"a":123.68,"b":4.1},{"l":"c38","o":9,"a":124.9,"b":4.05},{"l":"c38","o":10,"a":126.88,"b":4},{"l":"c38","o":11,"a":130.19,"b":3.95},{"l":"c38","o":12,"a":132.51,"b":3.93},{"l":"c38","o":13,"a":136.24,"b":3.918},{"l":"c38","o":14,"a":139.79,"b":3.93},{"l":"c38","o":15,"a":141.81,"b":3.95},{"l":"c38","o":16,"a":144.37,"b":4},{"l":"c38","o":17,"a":145.6,"b":4.05},{"l":"c38","o":18,"a":146.07,"b":4.1},{"l":"c38","o":19,"a":145.97,"b":4.15},{"l":"c38","o":20,"a":145.32,"b":4.2},{"l":"c38","o":21,"a":144.1,"b":4.25},{"l":"c38","o":22,"a":142.12,"b":4.3},{"l":"c38","o":23,"a":138.81,"b":4.35},{"l":"c38","o":24,"a":136.49,"b":4.37},{"l":"c38","o":25,"a":132.76,"b":4.382},
{"l":"c42","o":1,"a":50,"b":2.735},{"l":"c42","o":2,"a":54.47,"b":2.65},{"l":"c42","o":3,"a":59.46,"b":2.55},{"l":"c42","o":4,"a":64.97,"b":2.45},{"l":"c42","o":5,"a":71.1,"b":2.35},{"l":"c42","o":6,"a":77.98,"b":2.25},{"l":"c42","o":7,"a":85.82,"b":2.15},{"l":"c42","o":8,"a":94.99,"b":2.05},{"l":"c42","o":9,"a":100.28,"b":2},
{"l":"c44","o":1,"a":50,"b":2.04},{"l":"c44","o":2,"a":51.6,"b":2.02},{"l":"c44","o":3,"a":53.3,"b":2}
],
"labs":[
{"a":54.1,"b":3.91,"t":"40000"},{"a":129.7,"b":4.02,"t":"38000"},{"a":73.7,"b":2.35,"t":"42000"}
]
},
"layer":[
{"data":{"name":"grid"},
 "mark":{"type":"rect","binSpacing":0,"strokeWidth":0.6,"clip":true},
 "encoding":{
  "x":{"field":"a","type":"quantitative","bin":{"binned":true,"step":4},"scale":{"domain":[50,150],"nice":false,"zero":false},"axis":{"values":[50,70,90,110,130,150],"format":"d","title":"A: Catalyst concentration (ppm)"}},
  "y":{"field":"b","type":"quantitative","bin":{"binned":true,"step":0.1},"scale":{"domain":[2,6],"nice":false,"zero":false},"axis":{"values":[2,3,4,5,6],"format":"d","title":"B: Stoichiometric air flow (L/h)"}},
  "fill":{"field":"v","type":"quantitative","legend":null,"scale":{"type":"linear","domain":[37900,38400,39000,39500,40000,40400,40800,41300,41900,42400,42800,43400,43900,44300],"range":["#0050ff","#00a8ff","#00e6ff","#00fff0","#00ff9a","#00ff45","#00ff00","#3cf500","#aaff00","#eeff00","#ffff00","#ffa000","#ff2000","#d00000"],"interpolate":"rgb","clamp":true}},
  "stroke":{"field":"v","type":"quantitative","legend":null,"scale":{"type":"linear","domain":[37900,38400,39000,39500,40000,40400,40800,41300,41900,42400,42800,43400,43900,44300],"range":["#0050ff","#00a8ff","#00e6ff","#00fff0","#00ff9a","#00ff45","#00ff00","#3cf500","#aaff00","#eeff00","#ffff00","#ffa000","#ff2000","#d00000"],"interpolate":"rgb","clamp":true}}
 }},
{"data":{"name":"cont"},
 "mark":{"type":"line","color":"#1a1a1a","strokeWidth":1.1,"clip":true,"interpolate":"catmull-rom"},
 "encoding":{
  "x":{"field":"a","type":"quantitative","axis":{"values":[50,70,90,110,130,150],"format":"d","title":"A: Catalyst concentration (ppm)"}},
  "y":{"field":"b","type":"quantitative","axis":{"values":[2,3,4,5,6],"format":"d","title":"B: Stoichiometric air flow (L/h)"}},
  "detail":{"field":"l","type":"nominal"},
  "order":{"field":"o","type":"quantitative"}
 }},
{"data":{"name":"labs"},
 "mark":{"type":"point","shape":"M-1,-0.4H1V0.4H-1Z","size":1296,"filled":true,"fill":"white","stroke":"#222","strokeWidth":0.8,"opacity":1},
 "encoding":{
  "x":{"field":"a","type":"quantitative","axis":{"values":[50,70,90,110,130,150],"format":"d","title":"A: Catalyst concentration (ppm)"}},
  "y":{"field":"b","type":"quantitative","axis":{"values":[2,3,4,5,6],"format":"d","title":"B: Stoichiometric air flow (L/h)"}}
 }},
{"data":{"name":"labs"},
 "mark":{"type":"text","fontSize":10,"font":"Open Sans","color":"#111","align":"center","baseline":"middle"},
 "encoding":{
  "x":{"field":"a","type":"quantitative","axis":{"values":[50,70,90,110,130,150],"format":"d","title":"A: Catalyst concentration (ppm)"}},
  "y":{"field":"b","type":"quantitative","axis":{"values":[2,3,4,5,6],"format":"d","title":"B: Stoichiometric air flow (L/h)"}},
  "text":{"field":"t","type":"nominal"}
 }}
]
}
